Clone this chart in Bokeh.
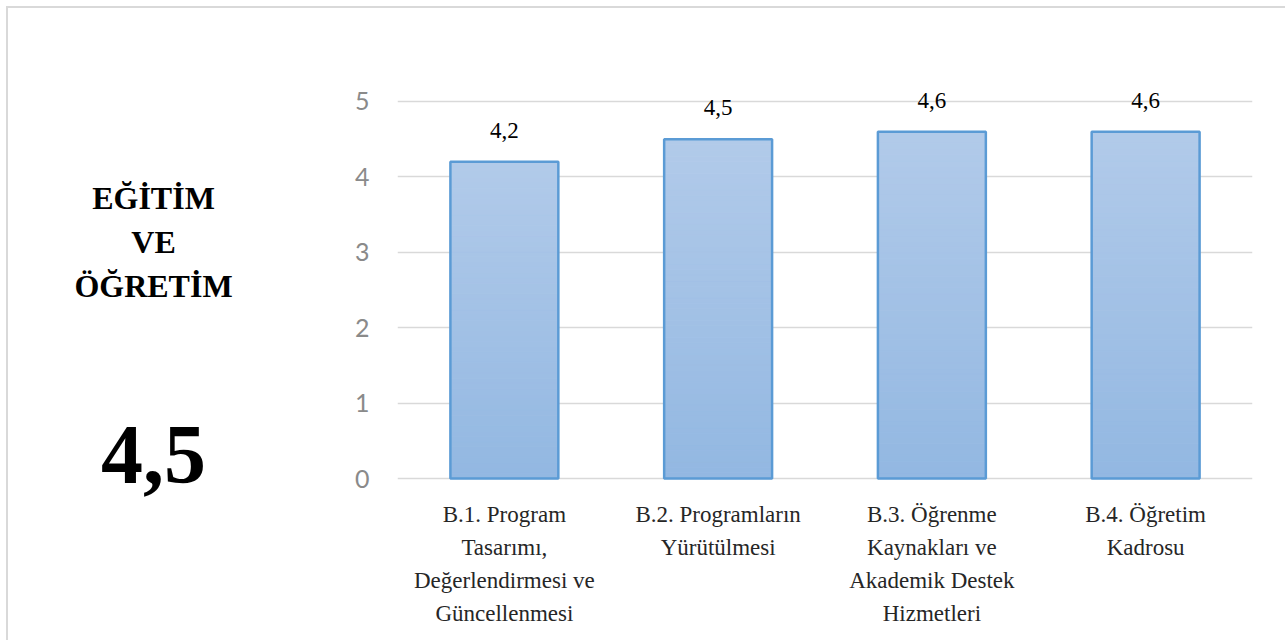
from bokeh.plotting import figure
from bokeh.layouts import row
from bokeh.models import FactorRange, Range1d, ColumnDataSource, LabelSet
from bokeh.core.properties import value
from bokeh.embed import file_html
from bokeh.resources import INLINE

categories = [
    "B.1. Program\nTasarımı,\nDeğerlendirmesi ve\nGüncellenmesi",
    "B.2. Programların\nYürütülmesi",
    "B.3. Öğrenme\nKaynakları ve\nAkademik Destek\nHizmetleri",
    "B.4. Öğretim\nKadrosu",
]
values = [4.2, 4.5, 4.6, 4.6]
y_ticks = [0, 1, 2, 3, 4, 5]
title_lines = ["EĞİTİM", "VE", "ÖĞRETİM"]
overall_score = 4.5

def fmt(v):
    return f"{v:.1f}".replace(".", ",")

H = 632
TOP = 70
BOTTOM = 139

# ---------- left panel (title + overall score), page-pixel coordinates ----------
left = figure(width=250, height=H, x_range=Range1d(8, 258), y_range=Range1d(501, 78),
              output_backend="svg", toolbar_location=None,
              min_border_left=0, min_border_right=0,
              min_border_top=TOP, min_border_bottom=BOTTOM)
left.axis.visible = False
left.grid.visible = False
left.outline_line_color = None
left.background_fill_color = "white"
left.border_fill_color = "white"
tsrc = ColumnDataSource(dict(x=[153] * len(title_lines), y=[197, 241, 285], t=title_lines))
left.text(x="x", y="y", text="t", source=tsrc, text_align="center", text_baseline="alphabetic",
          text_font=value("Liberation Serif"), text_font_style="bold",
          text_font_size="32px", text_color="#000000")
left.text(x=[153], y=[454], text=[fmt(overall_score)], text_align="center",
          text_baseline="alphabetic", text_font=value("Liberation Serif"),
          text_font_style="bold", text_font_size="84px", text_color="#000000")

# ---------- bar chart ----------
p = figure(
    x_range=FactorRange(*categories, range_padding=0),
    y_range=Range1d(-0.305, 5.305),
    width=1027, height=H,
    output_backend="svg", toolbar_location=None,
    min_border_left=139, min_border_right=33,
    min_border_top=TOP, min_border_bottom=BOTTOM,
)
p.outline_line_color = None
p.background_fill_color = "white"
p.border_fill_color = "white"

# gradient-like fill built from stripes of each bar
N = 60
top_c = (178, 203, 234)
bot_c = (147, 184, 226)
xs, bots, tops, cols = [], [], [], []
for c, v in zip(categories, values):
    for i in range(N):
        f = (i + 0.5) / N
        r = int(bot_c[0] + (top_c[0] - bot_c[0]) * f)
        g = int(bot_c[1] + (top_c[1] - bot_c[1]) * f)
        b = int(bot_c[2] + (top_c[2] - bot_c[2]) * f)
        xs.append(c)
        bots.append(v * i / N)
        tops.append(v * (i + 1) / N)
        cols.append(f"#{r:02x}{g:02x}{b:02x}")
p.vbar(x=xs, bottom=bots, top=tops, width=0.505, fill_color=cols, line_color=cols, line_width=1)

src = ColumnDataSource(dict(x=categories, y=values, t=[fmt(v) for v in values]))
p.vbar(x="x", top="y", bottom=0, width=0.505, source=src, fill_color=None,
       line_color="#5b9bd5", line_width=2.5)

p.add_layout(LabelSet(x="x", y="y", text="t", source=src, y_offset=24,
                      text_align="center", text_baseline="alphabetic",
                      text_font=value("Liberation Serif"), text_font_size="23px",
                      text_color="#000000"))

p.xaxis.axis_line_color = None
p.xaxis.major_tick_line_color = None
p.xaxis.minor_tick_line_color = None
p.xaxis.major_label_standoff = -6
p.xaxis.major_label_text_font = "Liberation Serif"
p.xaxis.major_label_text_font_size = "23px"
p.xaxis.major_label_text_color = "#262626"
p.xaxis.major_label_text_line_height = 1.33

p.yaxis.ticker = y_ticks
p.yaxis.axis_line_color = None
p.yaxis.major_tick_line_color = None
p.yaxis.minor_tick_line_color = None
p.yaxis.major_label_standoff = 22
p.yaxis.major_label_text_font = "Lato"
p.yaxis.major_label_text_font_size = "25px"
p.yaxis.major_label_text_color = "#8a8a8a"

p.xgrid.grid_line_color = None
p.ygrid.grid_line_color = "#d9d9d9"
p.ygrid.grid_line_width = 1.5

layout = row(left, p, styles={"border-top": "2px solid #d9d9d9",
                              "border-left": "2px solid #d9d9d9",
                              "margin-top": "6px", "margin-left": "6px"})

open("out.html", "w").write(file_html(layout, INLINE))
